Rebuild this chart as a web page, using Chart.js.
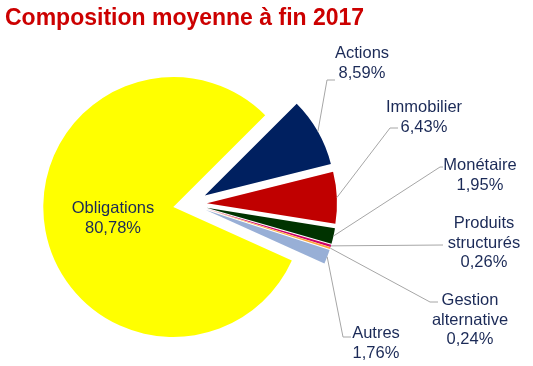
<!DOCTYPE html>
<html>
<head>
<meta charset="utf-8">
<script src="https://cdn.jsdelivr.net/npm/chart.js@4"></script>
<style>
html, body { margin: 0; padding: 0; background: #fff; }
</style>
</head>
<body>
<canvas id="composition-chart" width="533" height="366"></canvas>
<script>
const chartTitle = 'Composition moyenne à fin 2017';
const categories = ['Actions', 'Immobilier', 'Monétaire', 'Produits structurés', 'Gestion alternative', 'Autres', 'Obligations'];
const labelLines = [['Actions'], ['Immobilier'], ['Monétaire'], ['Produits', 'structurés'], ['Gestion', 'alternative'], ['Autres'], ['Obligations']];
const shares = [8.59, 6.43, 1.95, 0.26, 0.24, 1.76, 80.78];
const sliceColors = ['#002060', '#c00000', '#003300', '#cc0066', '#ffa53a', '#98afd6', '#ffff00'];

// where each label sits: [centre x, first baseline, elbow x, elbow y, line end x]
const labelLayout = [
    [362, 58, 327, 80, 335],
    [424, 112, 390, 128, 398],
    [480, 170, 440, 167, 443],
    [484, 228, 443, 245, 443],
    [470, 305, 430, 302, 438],
    [376, 338, 343, 337, 351],
    [113, 213, null, null, null]
];
const explodeDistance = 17;
const lineGap = 19.5;

function formatShare(v) {
    return v.toFixed(2).replace('.', ',') + '%';
}

// pull every slice out along its own bisector
const explodePlugin = {
    id: 'explode',
    beforeDatasetDraw(chart, args) {
        const ctx = chart.ctx;
        args.meta.data.forEach(arc => {
            const mid = (arc.startAngle + arc.endAngle) / 2;
            ctx.save();
            ctx.translate(Math.cos(mid) * explodeDistance, Math.sin(mid) * explodeDistance);
            arc.draw(ctx);
            ctx.restore();
        });
        return false;
    }
};

const labelPlugin = {
    id: 'sliceLabels',
    afterDraw(chart) {
        const ctx = chart.ctx;
        ctx.save();
        ctx.font = 'bold 23px "Liberation Sans", Arial, sans-serif';
        ctx.fillStyle = '#cc0000';
        ctx.textAlign = 'left';
        ctx.textBaseline = 'alphabetic';
        ctx.fillText(chartTitle, 5, 25);

        ctx.font = '16.5px "Liberation Sans", Arial, sans-serif';
        ctx.textAlign = 'center';
        chart.getDatasetMeta(0).data.forEach((arc, i) => {
            const [cx, by, ex, ey, lx] = labelLayout[i];
            if (ex !== null) {
                const mid = (arc.startAngle + arc.endAngle) / 2;
                const r = arc.outerRadius + explodeDistance;
                ctx.strokeStyle = '#a6a6a6';
                ctx.lineWidth = 1;
                ctx.beginPath();
                ctx.moveTo(arc.x + Math.cos(mid) * r, arc.y + Math.sin(mid) * r);
                ctx.lineTo(ex, ey);
                ctx.lineTo(lx, ey);
                ctx.stroke();
            }
            const lines = labelLines[i].concat([formatShare(shares[i])]);
            ctx.fillStyle = '#1b2a57';
            lines.forEach((t, k) => ctx.fillText(t, cx, by + k * lineGap));
        });
        ctx.restore();
    }
};

let compositionChart = new Chart(document.getElementById('composition-chart').getContext('2d'), {
    type: 'pie',
    data: {
        labels: categories,
        datasets: [{
            data: shares,
            backgroundColor: sliceColors,
            borderWidth: 0
        }]
    },
    options: {
        responsive: false,
        animation: false,
        devicePixelRatio: 1,
        rotation: 45,
        layout: {
            padding: { left: 60, right: 213, top: 74, bottom: 32 }
        },
        plugins: {
            legend: { display: false },
            tooltip: { enabled: false }
        }
    },
    plugins: [explodePlugin, labelPlugin]
});
</script>
</body>
</html>
